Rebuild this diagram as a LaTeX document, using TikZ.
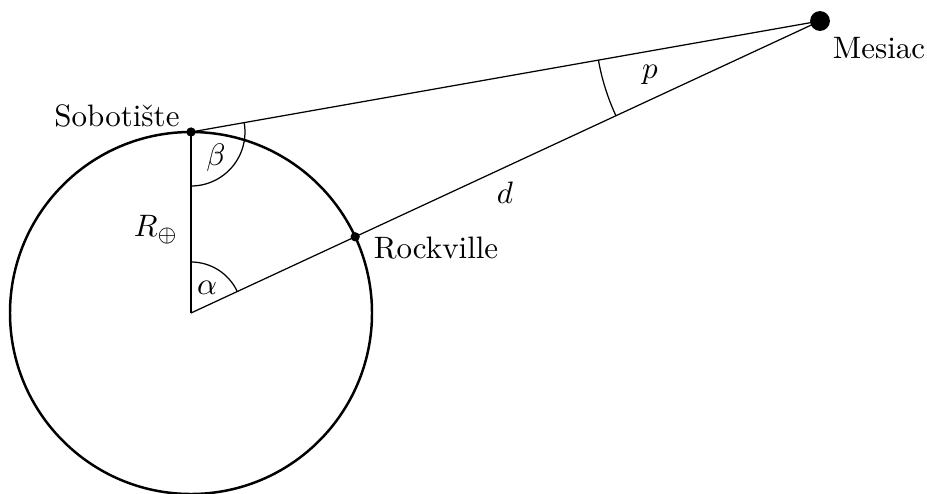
\documentclass[tikz,border=0pt]{standalone}
\usepackage{amsmath,amssymb}
\usetikzlibrary{calc}
\begin{document}
\begin{tikzpicture}[x=0.3226pt,y=0.3226pt,
  earth/.style={line width=0.8pt},
  seg/.style={line width=0.4pt},
  smalldot/.style={circle,fill=black,inner sep=0pt,minimum size=3pt},
  bigdot/.style={circle,fill=black,inner sep=0pt,minimum size=6.4pt},
  lbl/.style={inner sep=0pt}]
\useasboundingbox (0,0) rectangle (927,493);
\coordinate (O) at (191,180);
\coordinate (S) at (191,361);
\coordinate (M) at (820,472);
\coordinate (R) at ($(O)+(24.9:181)$);
% earth
\draw[earth] (O) circle[radius=181];
% segments
\draw[seg] (O) -- (S);
\draw[seg] (S) -- (M);
\draw[seg] (O) -- (M);
% angle arcs
\draw[seg] ($(S)+(-90:54)$) arc[start angle=-90,end angle=10,radius=54];
\draw[seg] ($(O)+(90:51)$) arc[start angle=90,end angle=24.9,radius=51];
\draw[seg] ($(M)+(190:225)$) arc[start angle=190,end angle=204.9,radius=225];
% points
\node[smalldot] (Sd) at (S) {};
\node[smalldot] (Rd) at (R) {};
\node[bigdot] (Md) at (M) {};
% labels
\node[lbl] (lS) at (117,377) {Sobotište};
\node[lbl] (lR) at (436,245) {Rockville};
\node[lbl] (lM) at (879,445) {Mesiac};
\node[lbl] (lRe) at (156,263) {$R_\oplus$};
\node[lbl] (lb) at (216,335) {$\beta$};
\node[lbl] (la) at (207,205) {$\alpha$};
\node[lbl] (lp) at (650,418) {$p$};
\node[lbl] (ld) at (505,300) {$d$};
\end{tikzpicture}
\end{document}
